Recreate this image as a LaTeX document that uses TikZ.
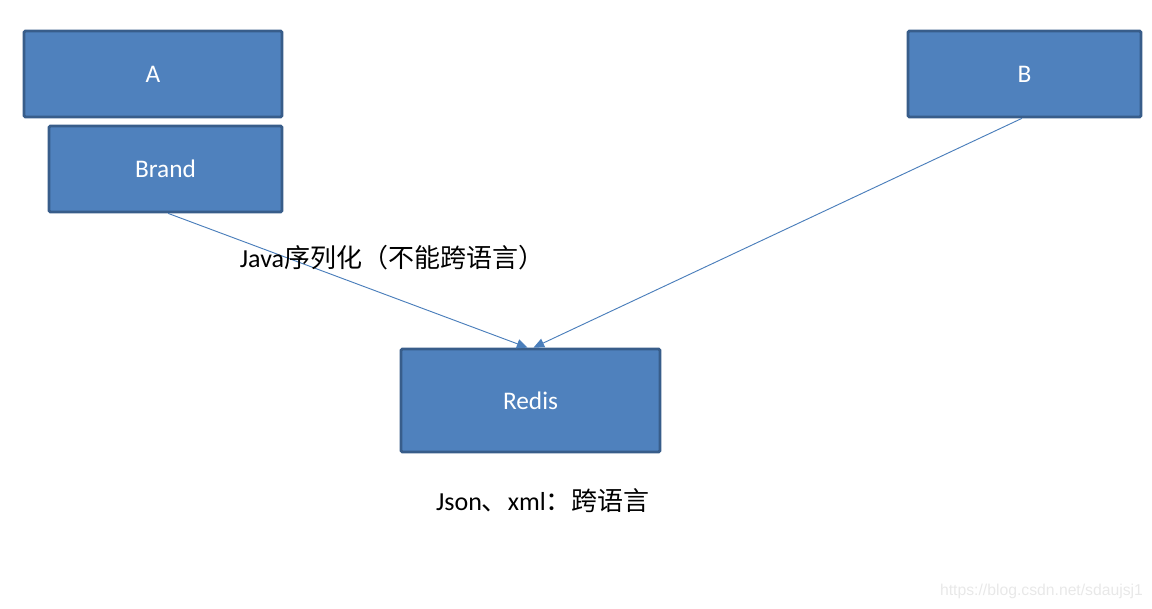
\documentclass[tikz,border=0pt]{standalone}
\usepackage{fontspec}
\setmainfont{Carlito}
\newfontfamily\cjk{Noto Sans CJK SC}
\newfontfamily\wmfont{Liberation Sans}
\usetikzlibrary{arrows.meta}
\definecolor{boxfill}{HTML}{4F81BD}
\definecolor{boxline}{HTML}{385D8A}
\definecolor{linkline}{HTML}{4A7EBB}
\tikzset{
  blockbox/.style={draw=boxline, fill=boxfill, line width=2.1pt, rounded corners=1pt,
    text=white, font=\fontsize{19}{21}\selectfont, inner sep=0pt},
  linkarrow/.style={draw=linkline, line width=0.7pt, -{Triangle[length=8pt,width=7pt]}},
  note/.style={font=\fontsize{19.5}{21}\selectfont, inner sep=0pt}
}
\begin{document}
\begin{tikzpicture}[x=0.75pt, y=-0.75pt]

% page frame
\useasboundingbox (0,0) rectangle (1152,609);

% boxes
\node[blockbox, minimum width=193.5pt, minimum height=64.5pt] (A) at (153,74) {A};
\node[blockbox, minimum width=174.75pt, minimum height=64.5pt] (Brand) at (165.5,169) {Brand};
\node[blockbox, minimum width=174.75pt, minimum height=64.5pt] (B) at (1024.5,74) {B};
\node[blockbox, minimum width=194.25pt, minimum height=77.25pt] (Redis) at (530.5,400.5) {Redis};

% links into Redis
\coordinate (redisL) at ([xshift=-2.25pt]Redis.north);
\coordinate (redisR) at ([xshift=2.25pt]Redis.north);
\draw[linkarrow] ([xshift=2pt]Brand.south) -- (redisL);
\draw[linkarrow] ([xshift=-2pt]B.south) -- (redisR);

% labels
\node[note] (javaNote) at (392,258) {Java{\cjk 序列化（不能跨语言）}};
\node[note] (jsonNote) at (543,501) {Json{\cjk 、}xml{\cjk ：跨语言}};
\node[font=\wmfont\fontsize{11.8}{13}\selectfont, text=black!9, inner sep=0pt] (mark) at (1041.5,591) {https://blog.csdn.net/sdaujsj1};

\end{tikzpicture}
\end{document}
